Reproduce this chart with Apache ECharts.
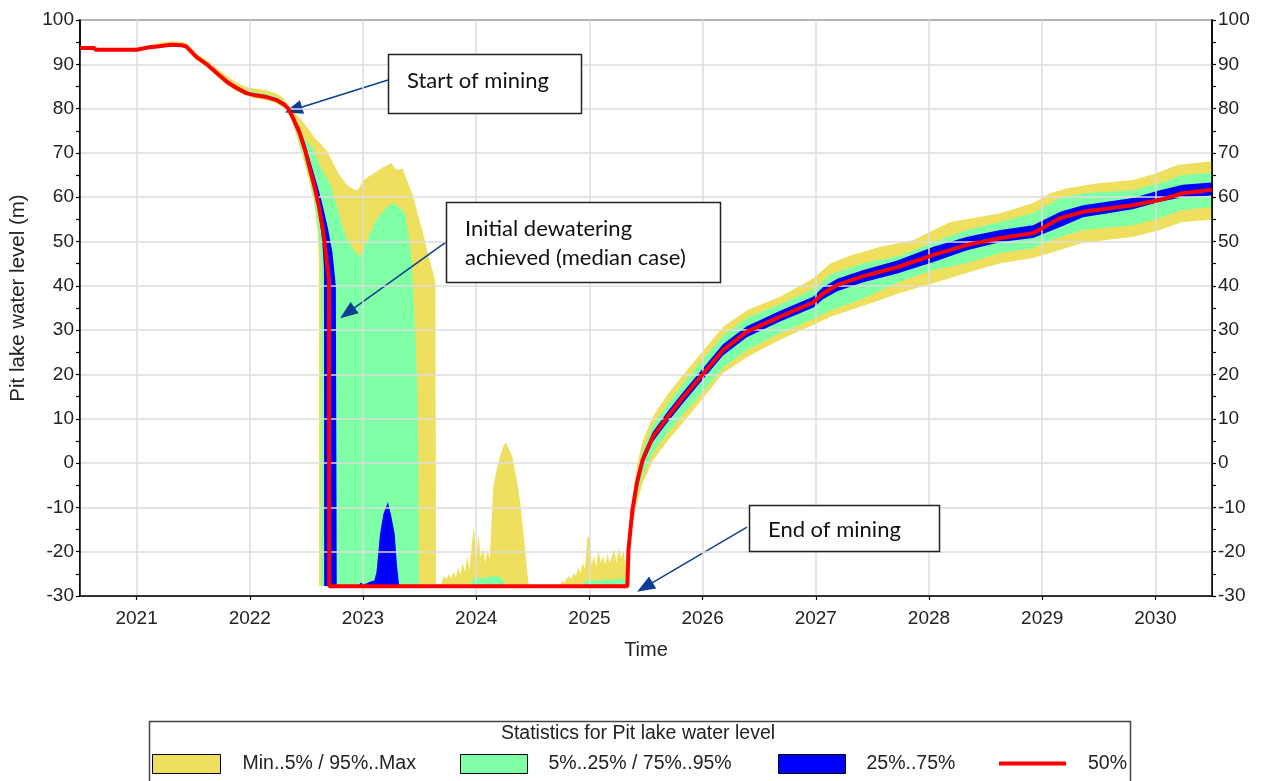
<!DOCTYPE html>
<html>
<head>
<meta charset="utf-8">
<script src="https://cdn.jsdelivr.net/npm/echarts@6/dist/echarts.min.js"></script>
<style>
html,body{margin:0;padding:0;background:#fff;}
#chart{width:1264px;height:781px;}
</style>
</head>
<body>
<div id="chart"></div>
<script>
// ---------- DATA (decimal year, water level m) ----------
const yearTicks = [2021, 2022, 2023, 2024, 2025, 2026, 2027, 2028, 2029, 2030];
const yMin = -30, yMax = 100, yStep = 10;

const levelMax = [
  [2020.50,93.7],[2020.62,93.7],[2020.64,93.3],[2021.00,93.4],[2021.10,94.2],[2021.20,94.8],[2021.30,95.2],[2021.40,95.1],[2021.44,94.8],[2021.53,92.4],[2021.62,90.9],[2021.71,89.1],[2021.80,87.3],[2021.88,85.9],[2021.97,84.9],[2022.05,84.5],[2022.15,84.1],[2022.24,83.4],[2022.30,82.3],[2022.34,80.8],
  [2022.38,79.5],[2022.44,77.8],[2022.49,76.3],[2022.53,75.0],[2022.57,73.5],[2022.62,72.2],[2022.68,70.5],[2022.73,68.0],[2022.78,65.5],[2022.85,63.0],[2022.90,62.0],[2022.95,61.5],[2022.97,62.3],[2023.00,63.8],[2023.05,64.7],[2023.12,65.8],[2023.18,66.8],[2023.22,67.3],[2023.25,67.7],[2023.28,66.5],[2023.31,66.2],[2023.35,66.5],[2023.40,63.0],[2023.44,60.5],[2023.48,56.5],[2023.53,52.0],[2023.58,46.5],[2023.62,43.0],[2023.64,40.5],[2023.645,-27.8],[2023.68,-27.8],
  [2023.70,-26.5],[2023.72,-25.5],[2023.74,-26.2],[2023.76,-25.0],[2023.78,-26.0],[2023.80,-24.5],[2023.82,-25.8],[2023.84,-23.5],[2023.86,-25.2],[2023.88,-22.5],[2023.90,-24.5],[2023.92,-21.0],[2023.94,-24.0],[2023.96,-18.5],[2023.98,-14.5],[2024.00,-22.0],[2024.02,-16.0],[2024.04,-21.5],[2024.06,-19.0],[2024.08,-22.5],[2024.10,-19.5],[2024.12,-21.5],[2024.15,-5.5],[2024.18,-1.5],[2024.21,1.5],[2024.24,3.8],[2024.26,4.7],[2024.28,3.8],[2024.32,1.3],[2024.36,-4.0],[2024.39,-9.0],[2024.43,-19.0],[2024.46,-27.0],[2024.48,-27.8],
  [2024.74,-27.8],[2024.76,-26.5],[2024.78,-27.0],[2024.80,-26.0],[2024.82,-25.5],[2024.84,-26.2],[2024.86,-24.8],[2024.88,-25.5],[2024.90,-23.5],[2024.92,-24.8],[2024.94,-22.5],[2024.96,-24.0],[2024.98,-17.0],[2025.00,-16.3],[2025.02,-23.0],[2025.04,-21.0],[2025.06,-23.5],[2025.08,-19.6],[2025.10,-22.5],[2025.12,-21.0],[2025.14,-23.0],[2025.16,-20.5],[2025.18,-22.5],[2025.20,-21.0],[2025.22,-19.2],[2025.24,-22.8],[2025.26,-19.0],[2025.28,-21.5],[2025.30,-19.6],[2025.32,-23.0],
  [2025.335,-23.0],[2025.345,-17.5],[2025.38,-8.0],[2025.42,-0.5],[2025.47,5.0],[2025.56,10.5],[2025.69,15.5],[2025.83,20.0],[2026.00,25.2],[2026.18,30.7],[2026.39,34.5],[2026.68,37.5],[2026.98,41.7],[2027.13,45.1],[2027.30,46.8],[2027.57,48.8],[2027.86,50.3],[2028.04,52.6],[2028.19,54.4],[2028.63,56.4],[2028.92,58.7],[2029.07,60.9],[2029.22,62.0],[2029.51,63.2],[2029.80,63.9],[2030.01,65.4],[2030.19,67.3],[2030.50,68.1]
];

const level95 = [
  [2020.50,93.7],[2020.62,93.7],[2020.64,93.3],[2021.00,93.3],[2021.10,94.0],[2021.20,94.5],[2021.30,94.8],[2021.40,94.7],[2021.44,94.4],[2021.53,92.0],[2021.62,90.4],[2021.71,88.5],[2021.80,86.6],[2021.88,85.3],[2021.97,84.2],[2022.05,83.7],[2022.15,83.3],[2022.24,82.6],[2022.30,81.6],[2022.34,80.4],
  [2022.38,77.0],[2022.42,75.2],[2022.49,73.0],[2022.56,71.0],[2022.62,67.0],[2022.71,63.0],[2022.78,57.0],[2022.82,53.3],[2022.86,50.5],[2022.91,48.5],[2022.97,46.5],[2023.04,50.3],[2023.09,53.5],[2023.12,55.0],[2023.20,57.5],[2023.27,58.7],[2023.33,57.5],[2023.37,56.4],[2023.40,52.0],[2023.43,46.0],[2023.46,30.0],[2023.48,18.0],[2023.49,0.0],[2023.495,-27.8],
  [2023.94,-27.8],[2023.96,-26.5],[2023.98,-26.0],[2024.02,-25.8],[2024.08,-26.0],[2024.14,-25.5],[2024.20,-25.6],[2024.24,-26.5],[2024.26,-27.8],
  [2024.93,-27.8],[2024.95,-26.8],[2025.00,-26.3],[2025.08,-26.5],[2025.15,-26.2],[2025.22,-26.4],[2025.30,-26.0],[2025.335,-26.5],
  [2025.345,-19.0],[2025.38,-9.5],[2025.42,-2.5],[2025.47,3.0],[2025.56,8.6],[2025.69,13.3],[2025.83,18.0],[2026.00,23.3],[2026.18,28.7],[2026.39,32.8],[2026.68,35.8],[2026.98,39.3],[2027.13,42.6],[2027.40,45.0],[2027.74,46.8],[2028.04,49.9],[2028.33,52.6],[2028.63,54.4],[2028.92,56.4],[2029.00,57.5],[2029.16,59.8],[2029.36,60.9],[2029.80,61.6],[2030.04,63.2],[2030.24,65.0],[2030.50,65.5]
];

const level75 = [
  [2020.50,93.7],[2020.62,93.7],[2020.64,93.3],[2021.00,93.3],[2021.10,93.9],[2021.20,94.3],[2021.30,94.6],[2021.40,94.5],[2021.44,94.2],[2021.53,91.8],[2021.62,90.2],[2021.71,88.2],[2021.80,86.3],[2021.88,85.0],[2021.97,83.8],[2022.05,83.3],[2022.15,82.9],[2022.24,82.2],[2022.30,81.3],[2022.34,80.2],
  [2022.38,78.6],[2022.44,75.6],[2022.49,72.0],[2022.53,68.5],[2022.57,65.0],[2022.61,61.5],[2022.65,57.5],[2022.69,53.0],[2022.73,47.5],[2022.76,40.0],[2022.768,-27.8],[2022.95,-27.8],[2022.98,-27.0],[2023.02,-27.3],[2023.06,-26.8],[2023.10,-26.5],[2023.12,-24.5],[2023.15,-16.0],[2023.18,-11.5],[2023.22,-8.8],[2023.25,-12.0],[2023.28,-16.0],[2023.30,-23.0],[2023.32,-27.8],[2025.335,-27.8],
  [2025.345,-19.3],[2025.38,-10.0],[2025.42,-3.5],[2025.47,1.8],[2025.56,7.0],[2025.69,11.6],[2025.83,16.1],[2026.00,21.3],[2026.18,26.8],[2026.39,30.9],[2026.68,34.3],[2026.98,37.6],[2027.06,39.6],[2027.19,41.6],[2027.42,43.6],[2027.72,45.7],[2028.04,48.8],[2028.33,51.0],[2028.63,52.6],[2028.92,53.7],[2029.16,56.7],[2029.36,58.2],[2029.80,59.8],[2030.04,61.6],[2030.24,62.8],[2030.50,63.3]
];

const level50 = [
  [2020.50,93.7],[2020.62,93.7],[2020.64,93.3],[2021.00,93.3],[2021.10,93.8],[2021.20,94.1],[2021.30,94.4],[2021.40,94.3],[2021.44,94.0],[2021.53,91.6],[2021.62,90.0],[2021.71,88.0],[2021.80,86.0],[2021.88,84.7],[2021.97,83.5],[2022.05,83.0],[2022.15,82.6],[2022.24,81.9],[2022.30,81.0],[2022.34,80.0],
  [2022.38,78.0],[2022.44,74.5],[2022.49,70.5],[2022.53,66.5],[2022.57,62.5],[2022.61,58.0],[2022.65,52.0],[2022.68,45.5],[2022.70,41.0],[2022.702,-27.8],[2025.335,-27.8],
  [2025.345,-19.6],[2025.38,-10.6],[2025.42,-4.5],[2025.47,0.7],[2025.56,5.9],[2025.69,10.4],[2025.83,14.9],[2026.00,20.0],[2026.18,25.5],[2026.39,29.6],[2026.68,33.0],[2026.98,36.3],[2027.06,38.2],[2027.19,40.2],[2027.42,42.2],[2027.72,44.2],[2028.04,47.0],[2028.33,49.2],[2028.63,50.8],[2028.92,51.9],[2029.00,53.0],[2029.16,55.3],[2029.36,56.7],[2029.80,58.2],[2030.04,59.4],[2030.24,60.9],[2030.50,61.7]
];

const level25 = [
  [2020.50,93.7],[2020.62,93.7],[2020.64,93.3],[2021.00,93.3],[2021.10,93.7],[2021.20,94.0],[2021.30,94.3],[2021.40,94.2],[2021.44,93.9],[2021.53,91.4],[2021.62,89.8],[2021.71,87.8],[2021.80,85.8],[2021.88,84.5],[2021.97,83.3],[2022.05,82.8],[2022.15,82.4],[2022.24,81.7],[2022.30,80.8],[2022.34,79.8],
  [2022.38,77.6],[2022.44,73.8],[2022.49,69.5],[2022.53,65.5],[2022.57,61.5],[2022.61,56.5],[2022.64,50.0],[2022.655,44.0],[2022.657,-27.8],[2025.335,-27.8],
  [2025.345,-20.0],[2025.38,-11.2],[2025.42,-5.4],[2025.47,-0.3],[2025.56,4.8],[2025.69,9.2],[2025.83,13.6],[2026.00,18.8],[2026.18,24.3],[2026.39,28.4],[2026.68,31.9],[2026.98,35.1],[2027.06,36.9],[2027.19,38.8],[2027.42,40.8],[2027.72,42.8],[2028.04,45.4],[2028.33,48.0],[2028.63,49.9],[2028.92,50.8],[2029.16,53.3],[2029.36,55.5],[2029.80,57.3],[2030.04,59.0],[2030.24,60.0],[2030.50,60.4]
];

const level05 = [
  [2020.50,93.7],[2020.62,93.7],[2020.64,93.3],[2021.00,93.2],[2021.10,93.6],[2021.20,93.9],[2021.30,94.2],[2021.40,94.1],[2021.44,93.7],[2021.53,91.2],[2021.62,89.6],[2021.71,87.5],[2021.80,85.6],[2021.88,84.2],[2021.97,83.1],[2022.05,82.6],[2022.15,82.2],[2022.24,81.4],[2022.30,80.5],[2022.34,79.5],
  [2022.38,77.0],[2022.44,72.5],[2022.49,68.0],[2022.53,64.0],[2022.57,59.5],[2022.60,54.0],[2022.63,46.0],[2022.632,-27.8],[2025.335,-27.8],
  [2025.345,-21.0],[2025.38,-12.5],[2025.42,-7.5],[2025.47,-2.8],[2025.56,2.3],[2025.69,6.8],[2025.83,11.0],[2026.00,16.0],[2026.18,21.5],[2026.39,25.5],[2026.68,29.3],[2026.98,32.6],[2027.13,34.5],[2027.40,37.0],[2027.74,40.9],[2028.04,43.6],[2028.33,45.1],[2028.63,47.4],[2028.92,48.5],[2029.07,50.3],[2029.36,52.6],[2029.80,53.7],[2030.04,55.3],[2030.24,57.1],[2030.50,57.8]
];

const levelMin = [
  [2020.50,93.7],[2020.62,93.7],[2020.64,93.3],[2021.00,93.1],[2021.10,93.5],[2021.20,93.7],[2021.30,94.0],[2021.40,93.9],[2021.44,93.5],[2021.53,91.0],[2021.62,89.4],[2021.71,87.3],[2021.80,85.3],[2021.88,84.0],[2021.97,82.9],[2022.05,82.3],[2022.15,81.9],[2022.24,81.1],[2022.30,80.1],[2022.34,79.2],
  [2022.38,76.5],[2022.44,71.5],[2022.49,67.0],[2022.53,63.0],[2022.57,58.5],[2022.60,52.0],[2022.61,46.0],[2022.612,-27.8],[2025.335,-27.8],
  [2025.345,-22.0],[2025.38,-14.0],[2025.42,-9.0],[2025.47,-4.5],[2025.56,0.5],[2025.69,5.0],[2025.83,9.2],[2026.00,14.5],[2026.18,20.3],[2026.39,23.9],[2026.68,27.8],[2026.98,31.2],[2027.13,33.0],[2027.30,34.5],[2027.57,36.8],[2027.74,38.4],[2028.04,40.6],[2028.33,42.9],[2028.63,45.1],[2028.92,46.3],[2029.07,47.4],[2029.36,49.7],[2029.80,51.0],[2030.04,52.6],[2030.24,54.4],[2030.50,54.9]
];

// Annotations: [label, start (box edge) [year, level], arrow target [year, level]]
const notes = [
  ['Start of mining', [2023.221, 86.46], [2022.385, 79.75]],
  ['Initial dewatering\nachieved (median case)', [2023.733, 49.89], [2022.862, 33.9]],
  ['End of mining', [2026.392, -14.45], [2025.49, -28.0]]
];

const NAME_Y = 'Min..5% / 95%..Max';
const NAME_G = '5%..25% / 75%..95%';
const NAME_B = '25%..75%';
const NAME_R = '50%';

const C_Y = '#EEE05E', C_G = '#7FFFA6', C_B = '#0000FF', C_R = '#FF0000';
const FONT = 'Liberation Sans, Arial, sans-serif';
const NOTE_FONT = 'Lato, "Open Sans", sans-serif';
const TXT = '#222';

function band(name, data, color, z) {
  return {
    type: 'line', name: name, data: data, z: z,
    color: color, showSymbol: false, symbol: 'none',
    lineStyle: { width: 0, opacity: 0 },
    areaStyle: { color: color, opacity: 1, origin: 'start' },
    silent: true
  };
}

const chart = echarts.init(document.getElementById('chart'), null, { renderer: 'canvas' });

const axisLabelStyle = { color: TXT, fontSize: 19, fontFamily: FONT };
const legendText = (pad) => ({ color: TXT, fontSize: 19.5, fontFamily: FONT, padding: [0, 0, 0, pad] });

const option = {
  animation: false,
  backgroundColor: '#fff',
  grid: { left: 80, right: 52, top: 20, bottom: 185, show: true, borderColor: '#000', borderWidth: 1.5, backgroundColor: 'transparent' },
  xAxis: {
    type: 'value', min: 2020.5, max: 2030.5, z: 10,
    name: 'Time', nameLocation: 'middle', nameGap: 44,
    nameTextStyle: { color: TXT, fontSize: 20, fontFamily: FONT },
    axisLine: { show: true, onZero: false, lineStyle: { color: '#000', width: 1.5 } },
    axisTick: { show: true, customValues: yearTicks, length: 4, lineStyle: { color: '#000', width: 1.2 } },
    axisLabel: Object.assign({ customValues: yearTicks, margin: 13, formatter: v => String(v) }, axisLabelStyle),
    splitLine: { show: true, lineStyle: { color: '#dcdcdc', width: 1.5 } }
  },
  yAxis: [
    {
      type: 'value', min: yMin, max: yMax, interval: yStep, position: 'left', z: 10,
      axisLine: { show: true, onZero: false, lineStyle: { color: '#000', width: 1.5 } },
      axisTick: { show: true, length: 4, lineStyle: { color: '#000', width: 1.2 } },
      minorTick: { show: true, splitNumber: 2, length: 4, lineStyle: { color: '#000', width: 1.2 } },
      axisLabel: Object.assign({ margin: 6 }, axisLabelStyle),
      splitLine: { show: true, lineStyle: { color: '#dcdcdc', width: 1.5 } }
    },
    {
      type: 'value', min: yMin, max: yMax, interval: yStep, position: 'right', z: 10,
      axisLine: { show: true, onZero: false, lineStyle: { color: '#000', width: 1.5 } },
      axisTick: { show: true, length: 4, lineStyle: { color: '#000', width: 1.2 } },
      minorTick: { show: true, splitNumber: 2, length: 4, lineStyle: { color: '#000', width: 1.2 } },
      axisLabel: Object.assign({ margin: 6 }, axisLabelStyle),
      splitLine: { show: false }
    }
  ],
  legend: [
    { data: [NAME_Y], left: 152, top: 754, padding: 0, icon: 'rect', itemWidth: 68, itemHeight: 19,
      itemStyle: { borderColor: '#000', borderWidth: 1 }, textStyle: legendText(17), selectedMode: false },
    { data: [NAME_G], left: 460, top: 754, padding: 0, icon: 'rect', itemWidth: 67, itemHeight: 19,
      itemStyle: { borderColor: '#000', borderWidth: 1 }, textStyle: legendText(16), selectedMode: false },
    { data: [NAME_B], left: 778, top: 754, padding: 0, icon: 'rect', itemWidth: 67, itemHeight: 19,
      itemStyle: { borderColor: '#000', borderWidth: 1 }, textStyle: legendText(16), selectedMode: false },
    { data: [NAME_R], left: 999, top: 753.5, padding: 0, icon: 'rect', itemWidth: 67, itemHeight: 4,
      itemStyle: { borderWidth: 0 }, textStyle: legendText(17), selectedMode: false }
  ],
  graphic: [
    { type: 'text', x: 18, y: 298, rotation: Math.PI / 2,
      style: { text: 'Pit lake water level (m)', fill: TXT, font: '20.5px ' + FONT, textAlign: 'center', textVerticalAlign: 'middle' } },
    // legend frame and title
    { type: 'rect', shape: { x: 149.5, y: 721.5, width: 981, height: 70 }, style: { fill: 'none', stroke: '#444', lineWidth: 1.5 }, z: 0 },
    { type: 'text', x: 638, y: 734, style: { text: 'Statistics for Pit lake water level', fill: TXT, font: '19.5px ' + FONT, textAlign: 'center', textVerticalAlign: 'middle' } },
    // annotation boxes
    { type: 'rect', shape: { x: 388.5, y: 54.5, width: 193, height: 59 }, style: { fill: '#fff', stroke: '#222', lineWidth: 1.5 }, z: 20 },
    { type: 'text', x: 407, y: 81, z: 21, style: { text: notes[0][0], fill: '#111', font: '22px ' + NOTE_FONT, textVerticalAlign: 'middle' } },
    { type: 'rect', shape: { x: 446.5, y: 202.5, width: 274, height: 80 }, style: { fill: '#fff', stroke: '#222', lineWidth: 1.5 }, z: 20 },
    { type: 'text', x: 465, y: 243, z: 21, style: { text: notes[1][0], fill: '#111', font: '22px ' + NOTE_FONT, textVerticalAlign: 'middle', lineHeight: 29 } },
    { type: 'rect', shape: { x: 749.5, y: 505.5, width: 190, height: 46 }, style: { fill: '#fff', stroke: '#222', lineWidth: 1.5 }, z: 20 },
    { type: 'text', x: 768, y: 530, z: 21, style: { text: notes[2][0], fill: '#111', font: '22px ' + NOTE_FONT, textVerticalAlign: 'middle' } }
  ],
  series: [
    band(NAME_Y, levelMax, C_Y, 2),
    band(NAME_G, level95, C_G, 2),
    band(NAME_B, level75, C_B, 2),
    band(NAME_G, level25, C_G, 2),
    band(NAME_Y, level05, C_Y, 2),
    band('below min', levelMin, '#ffffff', 2),
    {
      type: 'line', name: NAME_R, data: level50, z: 15, color: C_R,
      showSymbol: false, symbol: 'none', silent: true,
      lineStyle: { color: C_R, width: 4 },
      markLine: {
        silent: true, animation: false,
        symbol: ['none', 'triangle'], symbolSize: [14, 18],
        lineStyle: { color: '#0D3E91', width: 1.5, type: 'solid' },
        label: { show: false },
        data: notes.map(n => [{ coord: n[1], symbol: 'none' }, { coord: n[2], symbol: 'triangle' }])
      }
    }
  ]
};

chart.setOption(option);
</script>
</body>
</html>
